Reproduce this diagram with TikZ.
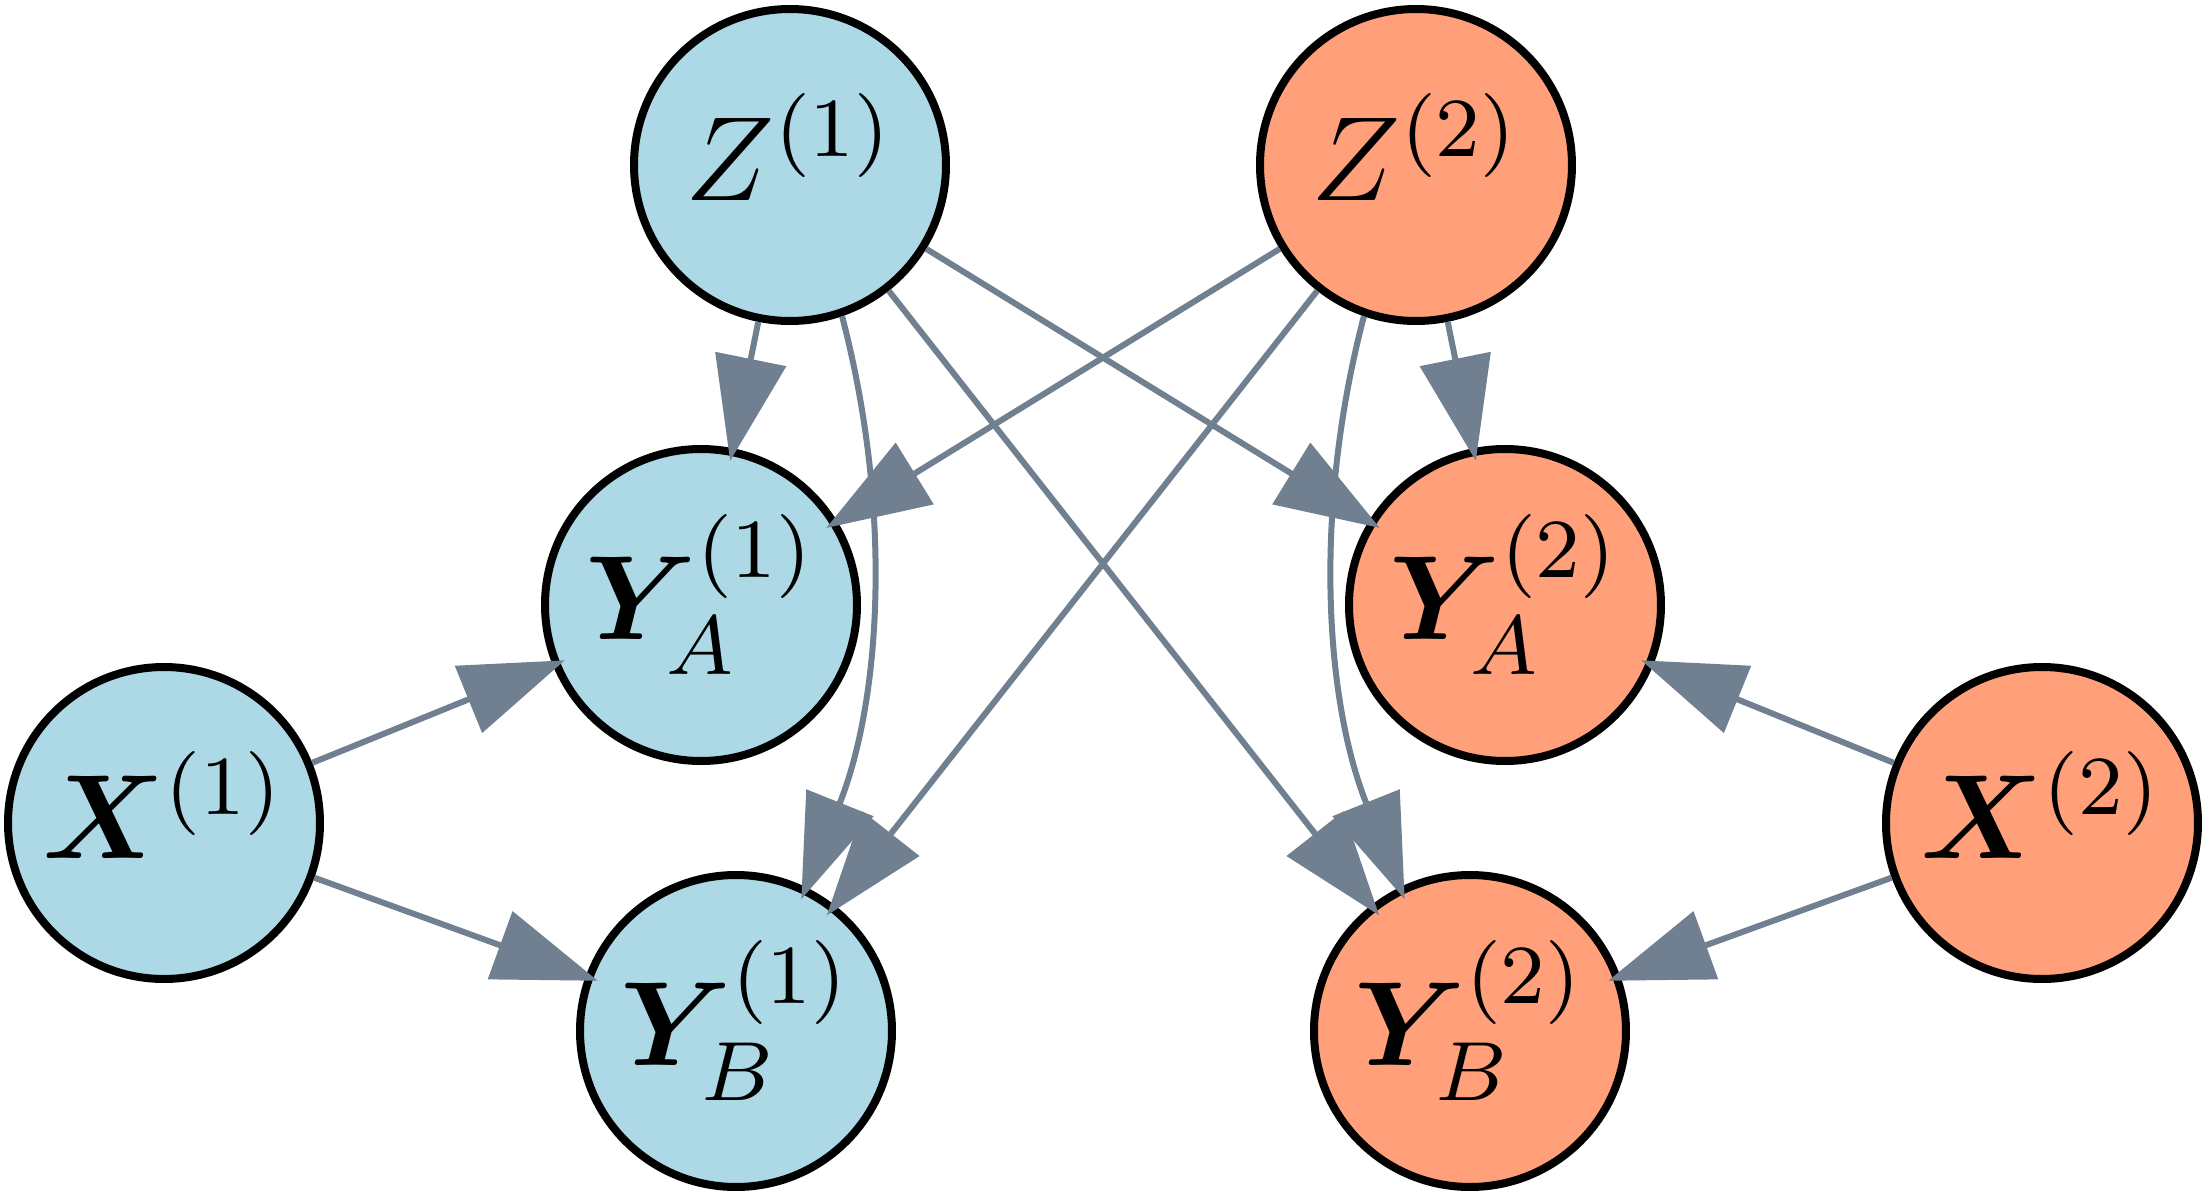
\documentclass[tikz,border=0pt]{standalone}
\usepackage{fix-cm}
\usepackage{amsmath,bm}
\DeclareMathSizes{12}{12}{8.4}{6}
\usetikzlibrary{arrows.meta}
\definecolor{nodeblue}{HTML}{ADD8E6}
\definecolor{nodesalmon}{HTML}{FFA07A}
\definecolor{edgegray}{HTML}{708090}
\newcommand{\lowsub}[1]{\lower0.7pt\hbox{$\scriptstyle #1$}}
\begin{document}
\begin{tikzpicture}[x=0.1pt,y=-0.1pt,
  vnode/.style={circle, draw=black, line width=0.8pt, minimum size=31.2pt, inner sep=0pt,
                font=\fontsize{12}{14}\selectfont},
  grpone/.style={vnode, fill=nodeblue},
  grptwo/.style={vnode, fill=nodesalmon},
  plainlbl/.style={text depth=3.6pt},
  subbedlbl/.style={text depth=5.6pt},
  edge/.style={draw=edgegray, line width=0.6pt, shorten >=-1.3pt,
               -{Triangle[length=10.4pt,width=7.1pt]}}
]
\useasboundingbox (0,0) rectangle (2210,1199);
% nodes
\node[grpone,plainlbl]  (z1)  at (790,165)   {$Z^{(1)}$};
\node[grptwo,plainlbl]  (z2)  at (1416,165)  {$Z^{(2)}$};
\node[grpone,subbedlbl] (ya1) at (701,605)   {$\bm{Y}_{\lowsub{A}}^{(1)}$};
\node[grptwo,subbedlbl] (ya2) at (1505,605)  {$\bm{Y}_{\lowsub{A}}^{(2)}$};
\node[grpone,plainlbl]  (x1)  at (164,823)   {$\bm{X}^{(1)}$};
\node[grptwo,plainlbl]  (x2)  at (2042,823)  {$\bm{X}^{(2)}$};
\node[grpone,subbedlbl] (yb1) at (736,1031)  {$\bm{Y}_{\lowsub{B}}^{(1)}$};
\node[grptwo,subbedlbl] (yb2) at (1470,1031) {$\bm{Y}_{\lowsub{B}}^{(2)}$};
% edges from Z1
\draw[edge] (z1) -- (ya1);
\draw[edge] (z1.-71) .. controls +(51,194.5) and +(74.7,-186.6) .. (yb1.64);
\draw[edge] (z1) -- (ya2);
\draw[edge] (z1) -- (yb2);
% edges from Z2
\draw[edge] (z2) -- (ya1);
\draw[edge] (z2) -- (yb1);
\draw[edge] (z2) -- (ya2);
\draw[edge] (z2.-109) .. controls +(-51,194.5) and +(-74.7,-186.6) .. (yb2.116);
% edges from X
\draw[edge] (x1) -- (ya1);
\draw[edge] (x1) -- (yb1);
\draw[edge] (x2) -- (ya2);
\draw[edge] (x2) -- (yb2);
\end{tikzpicture}
\end{document}
